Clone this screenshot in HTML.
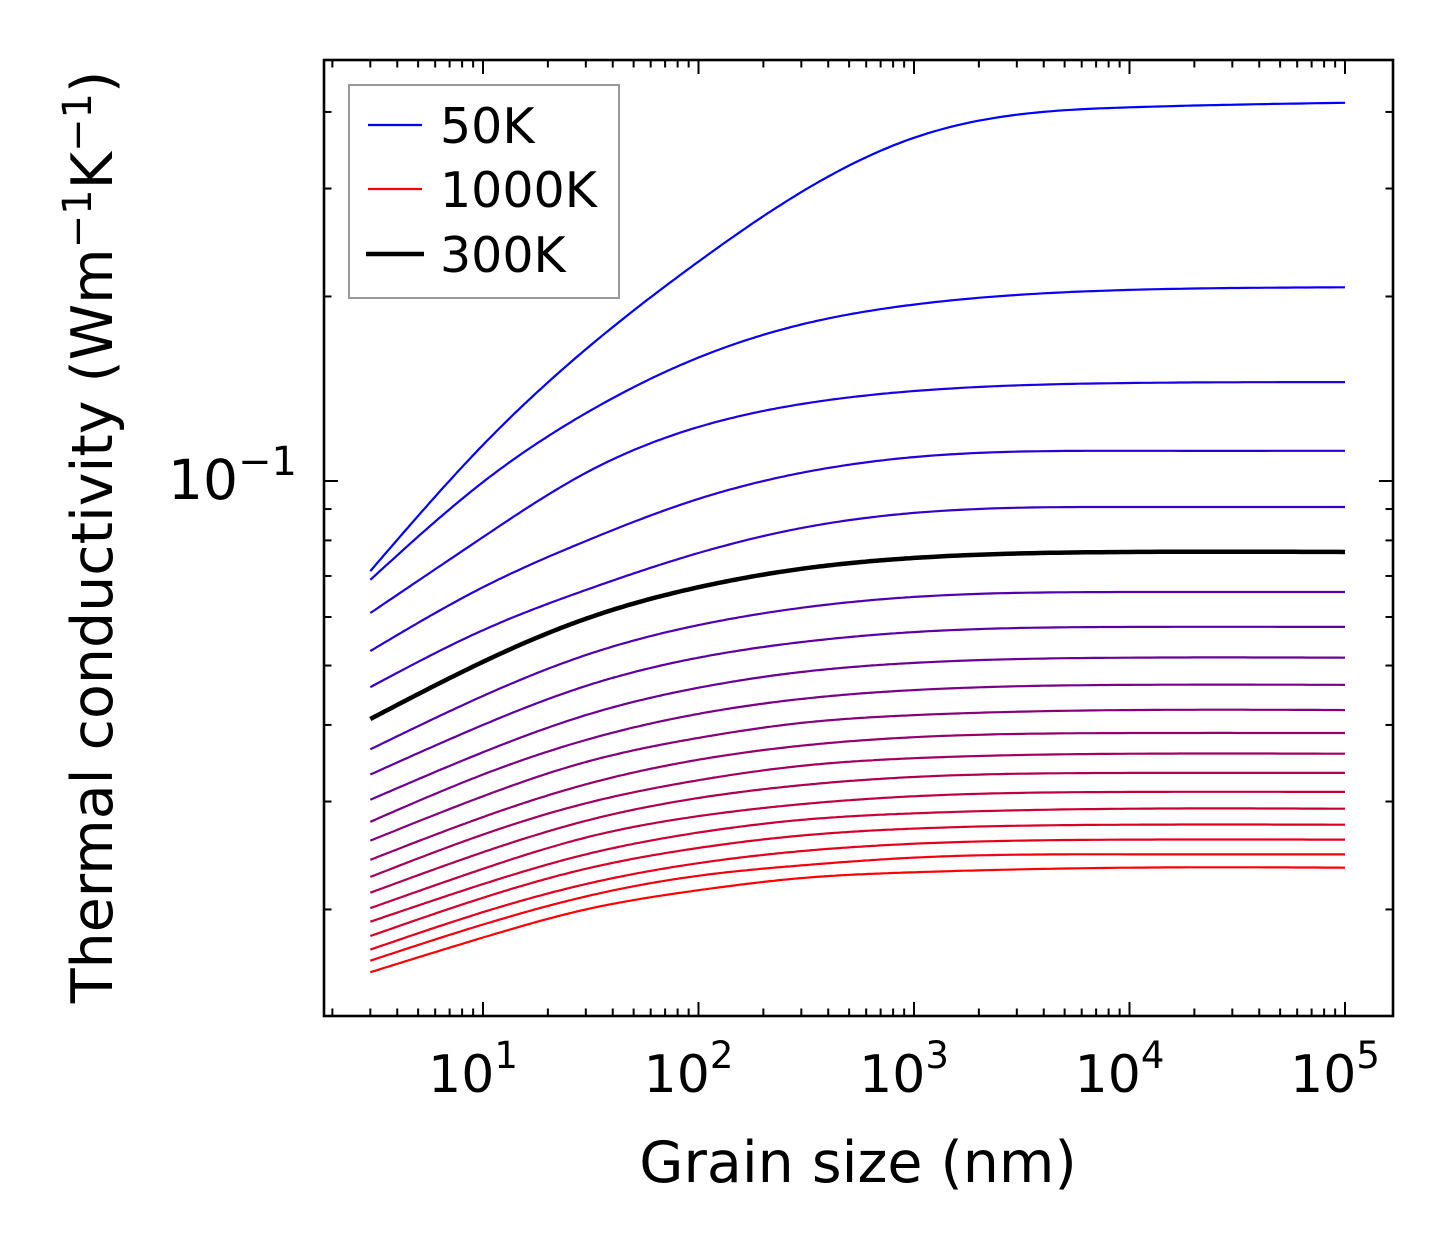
<!DOCTYPE html>
<html><head><meta charset="utf-8"><style>
html,body{margin:0;padding:0;background:#fff;}
svg{display:block;font-family:"DejaVu Sans","Liberation Sans",sans-serif;}
</style></head><body>
<svg id="chart" width="1454" height="1254" viewBox="0 0 1454 1254" xmlns="http://www.w3.org/2000/svg">
<rect x="0" y="0" width="1454" height="1254" fill="#fff"/>
<g id="curves"></g>
<g id="axes"></g>
<text x="858" y="1182" font-size="57" text-anchor="middle">Grain size (nm)</text>
<text transform="translate(112,537) rotate(-90)" font-size="57" text-anchor="middle">Thermal conductivity (Wm<tspan dy="-21" font-size="40">−1</tspan><tspan dy="21">K</tspan><tspan dy="-21" font-size="40">−1</tspan><tspan dy="21">)</tspan></text>
<g>
<rect x="349" y="85" width="270" height="213" fill="#fff" stroke="#999" stroke-width="2"/>
<line x1="368" y1="125" x2="422" y2="125" stroke="#0000ff" stroke-width="2.2"/>
<text x="440" y="143" font-size="49">50K</text>
<line x1="368" y1="189" x2="422" y2="189" stroke="#ff0000" stroke-width="2.2"/>
<text x="440" y="207" font-size="49">1000K</text>
<line x1="366" y1="254" x2="424" y2="254" stroke="#000" stroke-width="4.5"/>
<text x="440" y="272" font-size="49">300K</text>
</g>
</svg>
<script>
const grainSizes = [3, 10, 30, 100, 300, 1000, 10000, 100000];
const temperatures = [50,100,150,200,250,300,350,400,450,500,550,600,650,700,750,800,850,900,950,1000];
const k50  = [0.0713,0.1145,0.164,0.228,0.296,0.363,0.407,0.414];
const k100 = [0.0690,0.0996,0.129,0.159,0.180,0.194,0.205,0.207];
const k150 = [0.0609,0.0810,0.1031,0.1225,0.1335,0.1402,0.1445,0.145];
const k200 = [0.0528,0.0671,0.0798,0.0935,0.1031,0.1094,0.112,0.112];
const k250 = [0.0461,0.0571,0.0664,0.0763,0.0838,0.0887,0.0907,0.0907];
const k300 = [0.0409,0.0507,0.0596,0.0671,0.0719,0.0749,0.0766,0.0766];
const k350 = [0.0365,0.0446,0.0520,0.0582,0.0621,0.0647,0.0659,0.0659];
const k400 = [0.0332,0.0400,0.0463,0.0515,0.0546,0.0567,0.0578,0.0578];
const k450 = [0.0302,0.0361,0.0415,0.0460,0.0488,0.0505,0.0515,0.0515];
const k500 = [0.0278,0.0332,0.0378,0.0417,0.0441,0.0456,0.0465,0.0465];
const k550 = [0.0259,0.0306,0.0348,0.0381,0.0403,0.0415,0.0423,0.0423];
const k600 = [0.0241,0.0283,0.0320,0.0351,0.0370,0.0382,0.0388,0.0388];
const k650 = [0.0226,0.0265,0.0298,0.0325,0.0343,0.0353,0.0359,0.0359];
const k700 = [0.0213,0.0248,0.0279,0.0304,0.0319,0.0329,0.0334,0.0334];
const k750 = [0.0201,0.0233,0.0262,0.0284,0.0297,0.0306,0.0311,0.0311];
const k800 = [0.0191,0.0220,0.0246,0.0267,0.0280,0.0287,0.0292,0.0292];
const k850 = [0.0181,0.0209,0.0233,0.0252,0.0264,0.0271,0.0275,0.0275];
const k900 = [0.0172,0.0198,0.0220,0.0238,0.0249,0.0256,0.0260,0.0260];
const k950 = [0.0165,0.0189,0.0210,0.0227,0.0236,0.0243,0.0246,0.0246];
const k1000= [0.0158,0.0180,0.0200,0.0215,0.0225,0.0230,0.0234,0.0234];
const series = [k50,k100,k150,k200,k250,k300,k350,k400,k450,k500,k550,k600,k650,k700,k750,k800,k850,k900,k950,k1000];
const xTickLabels = ["1","2","3","4","5"];

const NS = "http://www.w3.org/2000/svg";
const L = 324, R = 1393, T = 60, B = 1016;
const xDec = 215.5, x10 = 483;
const yDec = 613, y01 = 481;
function xs(v){ return x10 + (Math.log10(v) - 1) * xDec; }
function ys(v){ return y01 - (Math.log10(v) + 1) * yDec; }

function mk(tag, attrs, parent){
  const e = document.createElementNS(NS, tag);
  for (const k in attrs) e.setAttribute(k, attrs[k]);
  parent.appendChild(e); return e;
}

function splinePath(px, py){
  const n = px.length, h = [], M = new Array(n).fill(0);
  for (let i=0;i<n-1;i++) h.push(px[i+1]-px[i]);
  const sub=[], diag=[], sup=[], rhs=[];
  for (let i=1;i<n-1;i++){
    sub.push(h[i-1]); diag.push(2*(h[i-1]+h[i])); sup.push(h[i]);
    rhs.push(6*((py[i+1]-py[i])/h[i] - (py[i]-py[i-1])/h[i-1]));
  }
  const m = diag.length;
  for (let i=1;i<m;i++){ const w = sub[i]/diag[i-1]; diag[i]-=w*sup[i-1]; rhs[i]-=w*rhs[i-1]; }
  const sol = new Array(m);
  sol[m-1] = rhs[m-1]/diag[m-1];
  for (let i=m-2;i>=0;i--) sol[i] = (rhs[i]-sup[i]*sol[i+1])/diag[i];
  for (let i=0;i<m;i++) M[i+1]=sol[i];
  let p = "M"+px[0].toFixed(1)+","+py[0].toFixed(1);
  for (let i=0;i<n-1;i++){
    const steps = 30;
    for (let s=1;s<=steps;s++){
      const x = px[i] + h[i]*s/steps;
      const A = (px[i+1]-x)/h[i], Bc = (x-px[i])/h[i];
      const y = A*py[i] + Bc*py[i+1] + ((A*A*A-A)*M[i] + (Bc*Bc*Bc-Bc)*M[i+1])*h[i]*h[i]/6;
      p += " L"+x.toFixed(1)+","+y.toFixed(1);
    }
  }
  return p;
}

const cg = document.getElementById("curves");
const px = grainSizes.map(xs);
const order = series.map((s,i)=>i).filter(i=>temperatures[i]!==300).concat([temperatures.indexOf(300)]);
order.forEach(i=>{
  const f = i/(series.length-1);
  const col = temperatures[i]===300 ? "#000" : "rgb("+Math.round(255*f)+",0,"+Math.round(255*(1-f))+")";
  const path = mk("path",{d:splinePath(px, series[i].map(ys)), fill:"none", stroke:col,
    "stroke-width": temperatures[i]===300 ? 4.5 : 2.2, "stroke-linejoin":"round"}, cg);
  
  
});

const ag = document.getElementById("axes");
const frame = mk("rect",{x:L,y:T,width:R-L,height:B-T,fill:"none",stroke:"#000","stroke-width":2.6},ag);



for (let dec=0; dec<=5; dec++){
  for (let k=1;k<=9;k++){
    const v = k*Math.pow(10,dec), x = xs(v);
    if (x < L+1 || x > R-1) continue;
    const len = k===1 ? 14 : 7.5;
    const t1 = mk("line",{x1:x,y1:B,x2:x,y2:B-len,stroke:"#000","stroke-width":2},ag);
    
    
    const t2 = mk("line",{x1:x,y1:T,x2:x,y2:T+len,stroke:"#000","stroke-width":2},ag);
    
    
    if (k===1 && dec>=1){
      const tx = mk("text",{x:x-10,y:1092,"font-size":52,"text-anchor":"middle"},ag);
      
      
      tx.textContent = "10";
      const sp = mk("tspan",{dy:-24,"font-size":37},tx);
      sp.textContent = xTickLabels[dec-1];
    }
  }
}
[0.02,0.03,0.04,0.05,0.06,0.07,0.08,0.09,0.1,0.2,0.3,0.4].forEach(v=>{
  const y = ys(v), len = Math.abs(v-0.1)<1e-9 ? 14 : 7.5;
  const t1 = mk("line",{x1:L,y1:y,x2:L+len,y2:y,stroke:"#000","stroke-width":2},ag);
  
  
  const t2 = mk("line",{x1:R,y1:y,x2:R-len,y2:y,stroke:"#000","stroke-width":2},ag);
  
  
});
const yl = mk("text",{x:297,y:ys(0.1)+18,"font-size":55,"text-anchor":"end"},ag);


yl.textContent = "10";
const ysp = mk("tspan",{dy:-24,"font-size":40},yl);
ysp.textContent = "−1";
</script>
</body></html>
